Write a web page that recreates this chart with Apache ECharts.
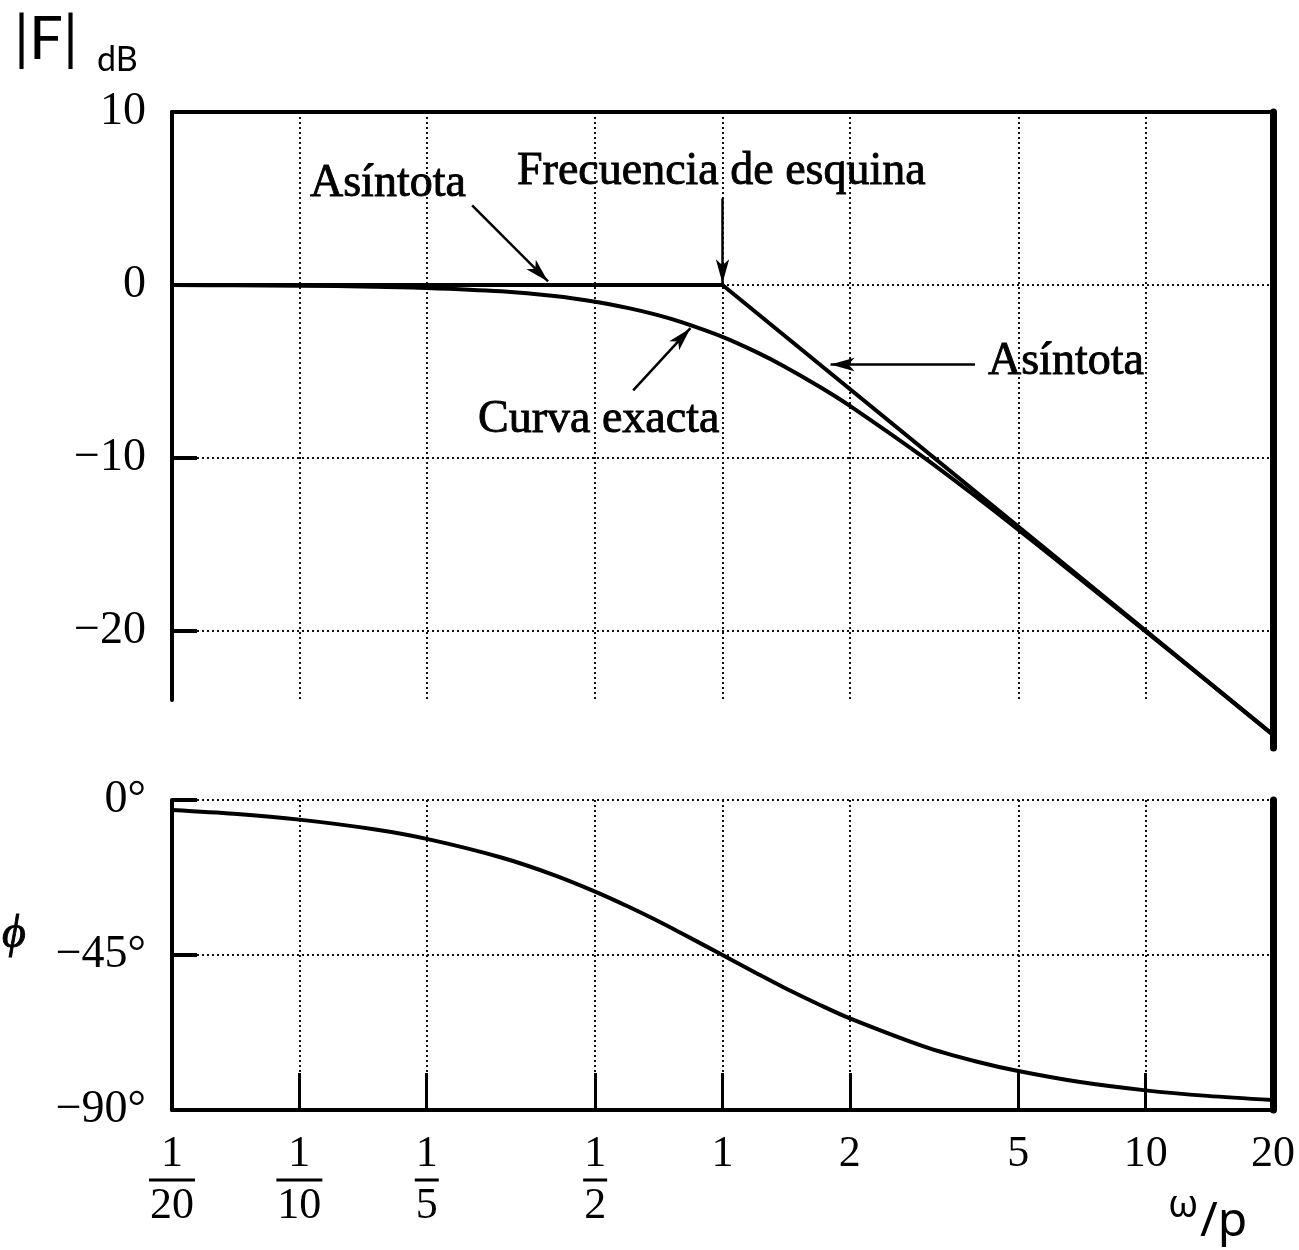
<!DOCTYPE html>
<html>
<head>
<meta charset="utf-8">
<script src="https://cdn.jsdelivr.net/npm/echarts@6/dist/echarts.min.js"></script>
<style>
html,body{margin:0;padding:0;background:#fff}
#chart{width:1299px;height:1250px}
</style>
</head>
<body>
<div id="chart"></div>
<script>
// ω/p sample points
const freq = [0.05,0.07,0.1,0.15,0.2,0.3,0.4,0.5,0.6,0.7,0.8,1,1.2,1.4,1.7,2,3,4,5,7,10,14,20]
const magExact = [0,-0.02,-0.04,-0.10,-0.17,-0.37,-0.64,-0.97,-1.34,-1.73,-2.15,-3.0,-3.87,-4.71,-5.9,-6.99,-10.0,-12.3,-14.15,-17.0,-20.04,-22.93,-26.02]
const phase = [-2.9,-4.0,-5.7,-8.5,-11.3,-16.7,-21.8,-26.6,-31.0,-35.0,-38.7,-45,-50.2,-54.5,-59.5,-63.4,-71.6,-76.0,-78.7,-81.9,-84.3,-85.9,-87.1]
// asintota: plana hasta la esquina, luego -20 dB/dec
const asymFreq = [0.05,1,20]
const asymMag = [0,0,-26.0]

const xTicks = [0.05,0.1,0.2,0.5,1,2,5,10,20]
const magTicks = [-20,-10,0,10]
const phaseTicks = [-90,-45,0]

const serif = 'Liberation Serif'
const zip = (a,b) => a.map((v,i) => [v,b[i]])
const minus = v => String(v).replace('-','\u2212')

const dotted = {show:true, lineStyle:{color:'#111', type:[2,3], width:2}}
const solid = w => ({show:true, onZero:false, lineStyle:{color:'#000', width:w}})
const ink = {fill:'#000', stroke:'#000', lineWidth:0.9} // el escaneo tiene el texto grueso

function fraction(v){
  if(v < 1){
    const d = Math.round(1/v)
    return `{n|1}\n{${d >= 10 ? 'barW' : 'bar'}| }\n{n|${d}}`
  }
  return `{n|${v}}`
}

let chart = echarts.init(document.getElementById('chart'))

let option = {
  animation:false,
  backgroundColor:'#fff',
  grid:[
    {left:172, right:26, top:112, height:588},
    {left:172, right:26, top:800, height:310},
    {left:172, right:26, top:112, height:636} // solo el borde derecho, que baja mas
  ],
  xAxis:[{
    type:'log', gridIndex:0, position:'top', min:0.05, max:20,
    axisLine:solid(4),
    axisTick:{show:false, customValues:xTicks},
    axisLabel:{show:false, customValues:xTicks},
    splitLine:{...dotted, showMinLine:false, showMaxLine:false}
  },{
    type:'log', gridIndex:1, position:'bottom', min:0.05, max:20,
    axisLine:solid(4),
    axisTick:{show:true, inside:true, length:37, customValues:xTicks, lineStyle:{color:'#000', width:3}},
    axisLabel:{
      customValues:xTicks, margin:24, formatter:fraction, color:'#000',
      rich:{
        n:{fontFamily:serif, fontSize:44, lineHeight:40, color:'#000'},
        bar:{width:24, height:3, backgroundColor:'#000', lineHeight:12},
        barW:{width:46, height:3, backgroundColor:'#000', lineHeight:12}
      }
    },
    splitLine:{...dotted, showMinLine:false, showMaxLine:false}
  },{
    type:'value', gridIndex:2, show:false, min:0, max:1
  }],
  yAxis:[{
    type:'value', gridIndex:0, position:'left', min:-24, max:10,
    axisLine:solid(4),
    axisTick:{show:true, inside:true, length:25, customValues:[-20,-10,0], lineStyle:{color:'#000', width:4}},
    axisLabel:{customValues:magTicks, formatter:minus, fontFamily:serif, fontSize:46, color:'#000', margin:26},
    splitLine:dotted
  },{
    type:'value', gridIndex:1, position:'left', min:-90, max:0, interval:45,
    axisLine:solid(4),
    axisTick:{show:true, inside:true, length:25, lineStyle:{color:'#000', width:4}},
    axisLabel:{formatter:v => minus(v) + '°', fontFamily:serif, fontSize:46, color:'#000', margin:26},
    splitLine:{...dotted, showMinLine:false}
  },{
    type:'value', gridIndex:1, position:'right', min:-90, max:0, interval:45,
    axisLine:solid(7), axisTick:{show:false}, axisLabel:{show:false}, splitLine:{show:false}
  },{
    type:'value', gridIndex:2, position:'right', min:0, max:1,
    axisLine:solid(7), axisTick:{show:false}, axisLabel:{show:false}, splitLine:{show:false}
  }],
  series:[{
    name:'Asíntota', type:'line', xAxisIndex:0, yAxisIndex:0,
    data:zip(asymFreq, asymMag), symbol:'none', clip:false, silent:true,
    lineStyle:{color:'#000', width:4},
    markLine:{
      silent:true, symbol:['none','arrow'], symbolSize:[10,24],
      label:{show:false},
      lineStyle:{color:'#000', width:2.5, type:'solid'},
      data:[
        [{coord:[0.256,4.6]},{coord:[0.387,0.2]}],
        [{coord:[1,5.0]},{coord:[1,0.1]}],
        [{coord:[3.95,-4.6]},{coord:[1.8,-4.6]}],
        [{coord:[0.615,-6.1]},{coord:[0.84,-2.5]}]
      ]
    }
  },{
    name:'Curva exacta', type:'line', xAxisIndex:0, yAxisIndex:0,
    data:zip(freq, magExact), symbol:'none', smooth:0.3, clip:false, silent:true,
    lineStyle:{color:'#000', width:4}
  },{
    name:'Fase', type:'line', xAxisIndex:1, yAxisIndex:1,
    data:zip(freq, phase), symbol:'none', smooth:0.3, silent:true,
    lineStyle:{color:'#000', width:4}
  }],
  graphic:[
    {type:'text', x:14, y:40, style:{text:'|F|', font:'60px Lato', fill:'#000', verticalAlign:'middle'}},
    {type:'text', x:97, y:60, style:{text:'dB', font:'34px Lato', fill:'#000', verticalAlign:'middle'}},
    {type:'text', x:310, y:184, style:{text:'Asíntota', font:`46px "${serif}"`, ...ink, verticalAlign:'middle'}},
    {type:'text', x:517, y:172, style:{text:'Frecuencia de esquina', font:`46px "${serif}"`, ...ink, verticalAlign:'middle'}},
    {type:'text', x:988, y:362, style:{text:'Asíntota', font:`46px "${serif}"`, ...ink, verticalAlign:'middle'}},
    {type:'text', x:478, y:420, style:{text:'Curva exacta', font:`46px "${serif}"`, ...ink, verticalAlign:'middle'}},
    {type:'text', x:2, y:935, style:{text:'\u03d5', font:`italic 46px "${serif}"`, ...ink, verticalAlign:'middle'}},
    {type:'text', x:1168, y:1206, style:{text:'ω', font:'38px "Noto Sans"', fill:'#000', verticalAlign:'middle'}},
    {type:'text', x:1200, y:1222, style:{text:'/p', font:'48px "Noto Sans"', fill:'#000', verticalAlign:'middle'}}
  ]
}

chart.setOption(option)
</script>
</body>
</html>
